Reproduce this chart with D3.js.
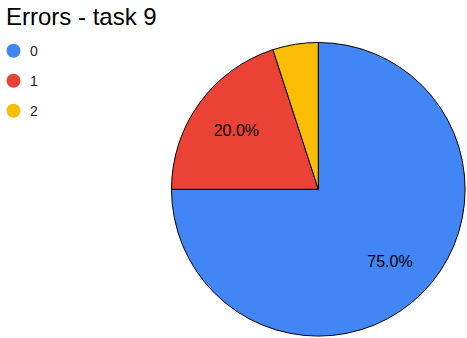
<!DOCTYPE html>
<html>
<head>
<meta charset="utf-8">
<script src="https://cdn.jsdelivr.net/npm/d3@7"></script>
<style>
  html, body { margin: 0; padding: 0; background: #fff; }
  svg { display: block; font-family: "Liberation Sans", Arial, sans-serif; }
</style>
</head>
<body>
<svg id="chart" width="467" height="338"></svg>
<script>
// Number of errors on task 9 and share of responses
const categories = ["0", "1", "2"];
const shares = [75, 20, 5];
const colors = ["#4285f4", "#ea4335", "#fbbc04"];
const chartTitle = "Errors - task 9";

const svg = d3.select("#chart");
const width = 467, height = 338;
const cx = 318.3, cy = 189.3, radius = 146.8;

// Title
svg.append("text")
  .attr("x", 6)
  .attr("y", 25)
  .attr("font-size", 24)
  .attr("fill", "#000")
  .text(chartTitle);

// Legend
const legend = svg.append("g");
const legendRow = d3.scalePoint().domain(categories).range([50.7, 110.7]);
categories.forEach((c, i) => {
  const y = legendRow(c);
  legend.append("circle")
    .attr("cx", 13.5).attr("cy", y).attr("r", 7)
    .attr("fill", colors[i]);
  legend.append("text")
    .attr("x", 30).attr("y", y + 5)
    .attr("font-size", 14)
    .attr("fill", "#222")
    .text(c);
});

// Pie, starting at 12 o'clock going clockwise
const pie = d3.pie().sort(null).value(d => d.value);
const data = categories.map((c, i) => ({ key: c, value: shares[i], color: colors[i] }));
const arcs = pie(data);
const total = d3.sum(shares);

const arc = d3.arc().innerRadius(0).outerRadius(radius);
const labelArc = d3.arc().innerRadius(radius * 0.69).outerRadius(radius * 0.69);

const g = svg.append("g").attr("transform", `translate(${cx},${cy})`);

g.selectAll("path.slice")
  .data(arcs)
  .join("path")
  .attr("class", "slice")
  .attr("d", arc)
  .attr("fill", d => d.data.color)
  .attr("stroke", "#000")
  .attr("stroke-width", 1)
  .attr("stroke-linejoin", "round");

// Percentage labels for slices wide enough to hold them
g.selectAll("text.pct")
  .data(arcs.filter(d => d.data.value / total >= 0.1))
  .join("text")
  .attr("class", "pct")
  .attr("transform", d => `translate(${labelArc.centroid(d)})`)
  .attr("text-anchor", "middle")
  .attr("dy", "0.36em")
  .attr("font-size", 16)
  .attr("fill", "#000")
  .text(d => (d.data.value / total * 100).toFixed(1) + "%");
</script>
</body>
</html>
